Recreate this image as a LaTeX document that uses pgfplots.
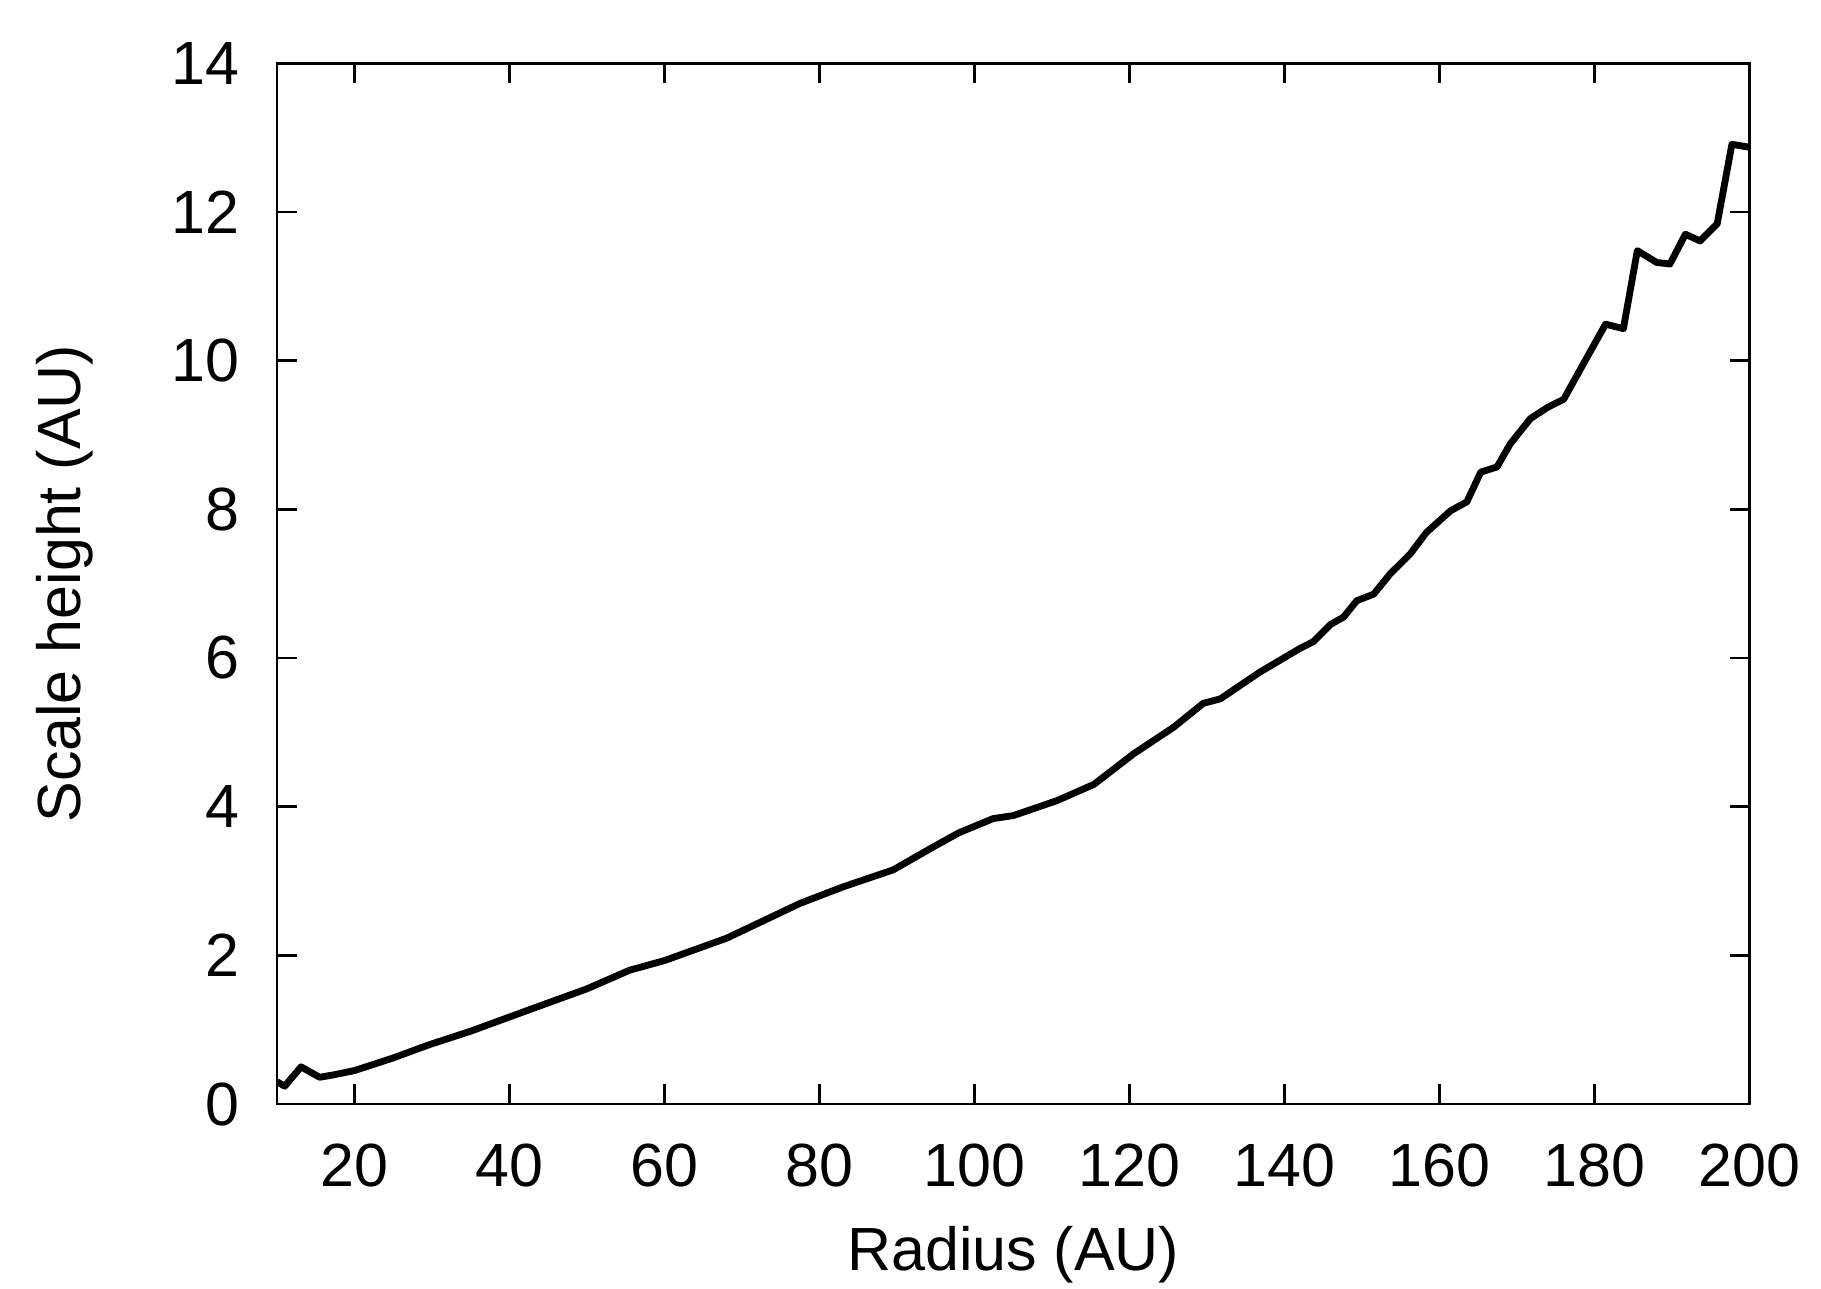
\documentclass[border=0pt]{standalone}
\usepackage{fontspec}
\setmainfont{Liberation Sans}
\usepackage{pgfplots}
\pgfplotsset{compat=1.18}
\begin{document}
\begin{tikzpicture}
\useasboundingbox (-48.6pt,-32.3pt) rectangle +(319.5pt,226pt);
\begin{axis}[at={(0,0)},anchor=south west,scale only axis,width=258.4pt,height=182.6pt,
  xmin=10,xmax=200,ymin=0,ymax=14,
  xtick={20,40,...,200},ytick={0,2,...,14},
  tick align=inside,major tick length=3.5pt,
  axis line style={line width=0.45pt},tick style={line width=0.45pt,black},
  font=\fontsize{10.7}{12.8}\selectfont,
  /pgf/number format/assume math mode=true,
  xticklabel style={yshift=-3.5pt},yticklabel style={xshift=-3pt},
  xlabel={Radius (AU)},ylabel={Scale height (AU)},
  xlabel style={yshift=0pt},ylabel style={yshift=7pt}]
\addplot[black,line width=1.2pt,line join=round] coordinates {
(10,0.30)(11,0.24)(13.1,0.50)(15.5,0.36)(17.2,0.39)(20,0.45)(25,0.62)
(29.7,0.80)(35,0.98)(42.6,1.27)(50,1.55)(55.5,1.80)(60,1.93)(68,2.23)
(77.5,2.70)(83,2.92)(89.5,3.15)(94.7,3.46)(98,3.65)(102.4,3.84)(105,3.88)
(110.6,4.08)(115.4,4.30)(120.5,4.71)(125.7,5.07)(129.5,5.39)(131.7,5.45)
(136.8,5.81)(142,6.13)(143.7,6.22)(145.9,6.45)(147.6,6.55)(149.3,6.77)
(151.5,6.86)(153.6,7.13)(156.2,7.40)(158.3,7.69)(161.4,7.98)(163.5,8.10)
(165.3,8.50)(167.4,8.57)(169.1,8.88)(171.7,9.22)(173.9,9.37)(176,9.48)
(178.5,9.95)(181.4,10.49)(183.7,10.43)(185.5,11.48)(188.0,11.32)(189.7,11.30)
(191.7,11.70)(193.6,11.61)(195.8,11.84)(197.7,12.91)(200,12.87)};
\end{axis}
\end{tikzpicture}
\end{document}
